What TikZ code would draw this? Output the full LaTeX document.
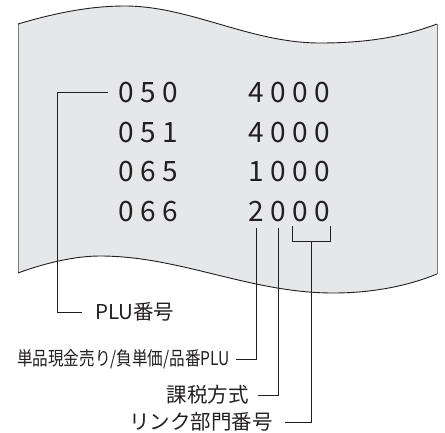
\documentclass[tikz,border=0pt]{standalone}
\usepackage{fontspec}
\usepackage{graphicx}
\setmainfont{Noto Sans CJK JP}
\usetikzlibrary{calc}
\definecolor{paper}{HTML}{E6E7E8}
\definecolor{ink}{HTML}{231F20}
\definecolor{side}{HTML}{7A7A7A}
\newcommand\dg[1]{\makebox[22pt]{#1}}
\begin{document}
\begin{tikzpicture}[x=1pt,y=-1pt,
  dig/.style={inner sep=0pt, font=\fontsize{28}{28}\selectfont, text=ink},
  lab/.style={inner sep=0pt, font=\fontsize{20.5}{20.5}\selectfont, text=ink},
  conn/.style={draw=ink, line width=0.9pt},
  edge/.style={draw=ink, line width=0.9pt},
  sideline/.style={draw=side, line width=0.9pt}]
\useasboundingbox (0,0) rectangle (445,432);
% paper
\fill[paper] (18,24) .. controls (55,13) and (90,6) .. (125,6)
  .. controls (190,6) and (250,43) .. (320,43)
  .. controls (370,43) and (405,36) .. (437,24)
  -- (437,274)
  .. controls (415,283) and (380,293) .. (333,293)
  .. controls (250,293) and (180,256) .. (100,256)
  .. controls (75,256) and (45,263) .. (18,273) -- cycle;
\draw[sideline] (18,24) -- (18,273);
\draw[sideline] (437,24) -- (437,274);
\draw[edge] (18,24) .. controls (55,13) and (90,6) .. (125,6)
  .. controls (190,6) and (250,43) .. (320,43)
  .. controls (370,43) and (405,36) .. (437,24);
\draw[edge] (18,273) .. controls (45,263) and (75,256) .. (100,256)
  .. controls (180,256) and (250,293) .. (333,293)
  .. controls (380,293) and (415,283) .. (437,274);
% digits
\node[dig, anchor=west] (r1a) at (115.5,92.5) {\dg{0}\dg{5}\dg{0}};
\node[dig, anchor=west] (r1b) at (245,92.5) {\dg{4}\dg{0}\dg{0}\dg{0}};
\node[dig, anchor=west] (r2a) at (115.5,132.3) {\dg{0}\dg{5}\dg{1}};
\node[dig, anchor=west] (r2b) at (245,132.3) {\dg{4}\dg{0}\dg{0}\dg{0}};
\node[dig, anchor=west] (r3a) at (115.5,172) {\dg{0}\dg{6}\dg{5}};
\node[dig, anchor=west] (r3b) at (245,172) {\dg{1}\dg{0}\dg{0}\dg{0}};
\node[dig, anchor=west] (r4a) at (115.5,211.7) {\dg{0}\dg{6}\dg{6}};
\node[dig] (d1) at (256,211.7) {2};
\node[dig] (d2) at (278,211.7) {0};
\node[dig] (d3) at (300,211.7) {0};
\node[dig] (d4) at (322,211.7) {0};
% labels
\node[lab, anchor=west] (plu) at (95,312) {PLU番号};
\node[lab, anchor=east, font=\fontsize{19}{19}\selectfont] (l2) at (230,359) {\scalebox{0.82}[1]{単品現金売り/負単価/品番PLU}};
\node[lab, anchor=east] (l3) at (249,395) {課税方式};
\node[lab, anchor=east] (l4) at (273,422) {リンク部門番号};
% connectors
\draw[conn] ([xshift=-7.5pt]r1a.west) -| ([xshift=-38pt]plu.west) -- ([xshift=-13pt]plu.west);
\draw[conn] ([yshift=-6pt]d1.south) |- ([xshift=6pt]l2.east);
\draw[conn] ([yshift=-6pt]d2.south) |- ([xshift=9pt]l3.east);
\draw[conn] ([yshift=-4pt]d3.south west) -- ([yshift=-19pt]d3.south west)
  -- ([yshift=-19pt]d4.south east) -- ([yshift=-4pt]d4.south east);
\coordinate (br) at ($([yshift=-19pt]d3.south)!0.5!([yshift=-19pt]d4.south)$);
\draw[conn] (br) |- ([xshift=12pt]l4.east);
\end{tikzpicture}
\end{document}
